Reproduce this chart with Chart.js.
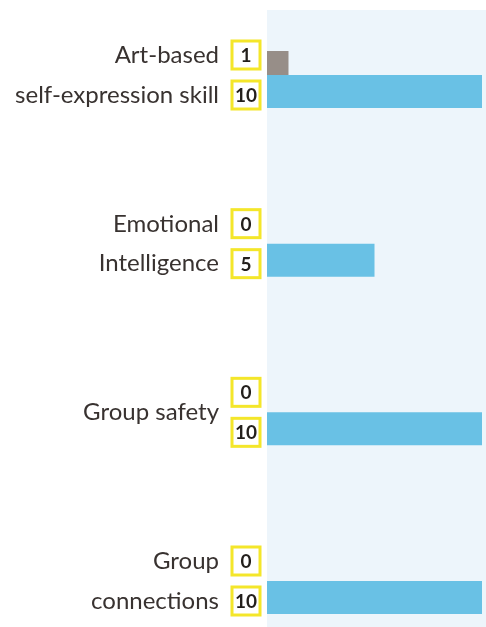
<!DOCTYPE html>
<html>
<head>
<meta charset="utf-8">
<script src="https://cdn.jsdelivr.net/npm/chart.js@4/dist/chart.umd.min.js"></script>
<style>
  html, body { margin: 0; padding: 0; background: #ffffff; }
  #wrap { width: 486px; height: 627px; position: relative; }
</style>
</head>
<body>
<div id="wrap"><canvas id="myChart"></canvas></div>
<script>
'use strict';

/** @desc Categories (multi-line labels) */
const CATEGORIES = [
  ['Art-based', 'self-expression skill'],
  ['Emotional', 'Intelligence'],
  ['Group safety'],
  ['Group', 'connections']
];

/** @desc Values of the first (grey) series */
const BEFORE = [1, 0, 0, 0];

/** @desc Values of the second (blue) series */
const AFTER = [10, 5, 10, 10];

/** @desc Colours */
const GREY = '#978e88';
const BLUE = '#69c1e5';
const PANEL = '#edf5fb';
const YELLOW = '#f4e62a';

/** @desc Light panel behind the plot */
const PANEL_PLUGIN = {
  id: 'panel',
  beforeDraw(chart) {
    const {ctx, chartArea, width, height} = chart;
    ctx.save();
    ctx.fillStyle = PANEL;
    ctx.fillRect(chartArea.left, 10, width - chartArea.left, height - 10);
    ctx.restore();
  }
};

/** @desc Yellow value boxes next to each category */
const BOX_PLUGIN = {
  id: 'valueBoxes',
  afterDraw(chart) {
    const {ctx, chartArea} = chart;
    const yScale = chart.scales.y;
    const x = chartArea.left - 21;
    const size = 28;
    ctx.save();
    CATEGORIES.forEach((cat, i) => {
      const yc = yScale.getPixelForValue(i);
      [[BEFORE[i], -20], [AFTER[i], 20]].forEach(([v, dy]) => {
        const y = yc + dy;
        ctx.fillStyle = '#ffffff';
        ctx.fillRect(x - size / 2, y - size / 2, size, size);
        ctx.strokeStyle = YELLOW;
        ctx.lineWidth = 3;
        ctx.strokeRect(x - size / 2, y - size / 2, size, size);
        ctx.fillStyle = '#231f1c';
        ctx.font = 'bold 19px Lato, "DejaVu Sans", sans-serif';
        ctx.textAlign = 'center';
        ctx.textBaseline = 'middle';
        ctx.fillText(String(v), x, y + 1);
      });
    });
    ctx.restore();
  }
};

const DATA = {
  labels: CATEGORIES,
  datasets: [
    {
      label: 'Before',
      data: BEFORE,
      backgroundColor: GREY,
      barThickness: 24,
      inflateAmount: 0,
      clip: false
    },
    {
      label: 'After',
      data: AFTER,
      backgroundColor: BLUE,
      barThickness: 33,
      inflateAmount: 0,
      clip: false
    }
  ]
};

const OPTIONS = {
  indexAxis: 'y',
  responsive: true,
  maintainAspectRatio: false,
  animation: false,
  layout: {
    padding: {top: 75, bottom: 46, right: 4, left: 0}
  },
  plugins: {
    legend: {display: false},
    tooltip: {enabled: false}
  },
  scales: {
    x: {
      display: false,
      min: 0,
      max: 10
    },
    y: {
      offset: false,
      grid: {display: false, drawTicks: false},
      border: {display: false},
      afterFit(scale) {
        scale.width = 267;
        scale.paddingTop = 0;
        scale.paddingBottom = 0;
      },
      ticks: {
        padding: 48,
        color: '#383230',
        font: {family: 'Lato, "DejaVu Sans", sans-serif', size: 24, lineHeight: 1.65}
      }
    }
  }
};

const CTX = document.getElementById('myChart').getContext('2d');
let myChart = new Chart(CTX, {
  type: 'bar',
  data: DATA,
  options: OPTIONS,
  plugins: [PANEL_PLUGIN, BOX_PLUGIN]
});
</script>
</body>
</html>
